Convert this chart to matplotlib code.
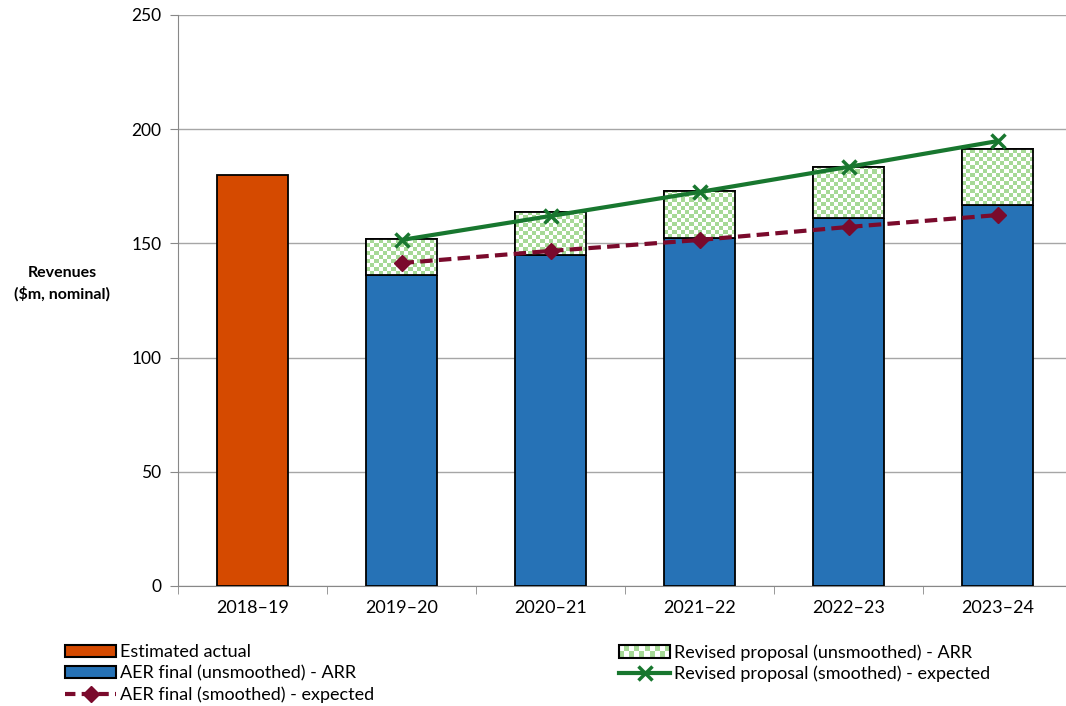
import numpy as np
import matplotlib.pyplot as plt
from matplotlib.patches import Rectangle, Patch
from matplotlib.lines import Line2D
from matplotlib.legend_handler import HandlerBase

plt.rcParams['font.family'] = ['Lato', 'DejaVu Sans']

# Data
years = ["2018–19", "2019–20", "2020–21", "2021–22", "2022–23", "2023–24"]
estimated_actual = [180.0]
aer_final_arr = [136, 145, 152.5, 161, 167]
revised_arr = [152, 163.7, 172.8, 183.5, 191.3]
revised_expected = [151.5, 162, 172.5, 183.5, 194.8]
aer_expected = [141.4, 146.7, 151.5, 157.2, 162.4]

orange = '#d54a00'
blue = '#2672b6'
light_green = '#a6d996'
dark_green = '#18772f'
maroon = '#7a0a2c'

fig = plt.figure(figsize=(10.66, 7.06), dpi=100)
ax = fig.add_axes([178 / 1066, 1 - 586 / 706, 894 / 1066, 571 / 706])

x = np.arange(len(years))
w = 0.48
xf = x[1:]

ax.bar(x[:1], estimated_actual, width=w, color=orange, edgecolor='black', linewidth=1.3, zorder=3)
ax.bar(xf, aer_final_arr, width=w, color=blue, edgecolor='black', linewidth=1.3, zorder=3)
tops = np.array(revised_arr) - np.array(aer_final_arr)
green_bars = ax.bar(xf, tops, bottom=aer_final_arr, width=w, color='white',
                    edgecolor='black', linewidth=1.3, zorder=3)

ax.set_xlim(-0.5, len(years) - 0.5)
ax.set_ylim(0, 250)

# checkerboard fill for the revised proposal bars
sq_x = w / 17
sq_y = 1.75
for b in green_bars:
    x0, y0 = b.get_x(), b.get_y()
    nx = int(np.ceil(b.get_width() / sq_x)) + 1
    ny = int(np.ceil(b.get_height() / sq_y)) + 1
    checker = (np.add.outer(np.arange(ny), np.arange(nx)) % 2).astype(float)
    img = ax.imshow(checker, cmap=plt.matplotlib.colors.ListedColormap(['white', light_green]),
                    extent=(x0, x0 + nx * sq_x, y0, y0 + ny * sq_y), origin='lower',
                    interpolation='nearest', aspect='auto', zorder=3.5)
    img.set_clip_path(b)
    edge = Rectangle((x0, y0), b.get_width(), b.get_height(), facecolor='none',
                     edgecolor='black', linewidth=1.3, zorder=3.6)
    ax.add_patch(edge)

ax.set_xlim(-0.5, len(years) - 0.5)
ax.set_ylim(0, 250)

ax.plot(xf, revised_expected, color=dark_green, linewidth=3, marker='x', markersize=10,
        markeredgewidth=2.5, zorder=5)
ax.plot(xf, aer_expected, color=maroon, linewidth=3, linestyle=(0, (3, 1.5)), marker='D',
        markersize=8, zorder=5)

ax.set_yticks(np.arange(0, 251, 50))
ax.yaxis.grid(True, color='#a6a6a6', linewidth=1, zorder=0)
ax.set_axisbelow(True)
ax.set_xticks(x)
ax.set_xticklabels(years)
ax.set_xticks(np.arange(-0.5, len(years)), minor=True)
ax.tick_params(axis='x', which='major', length=0, pad=10, labelsize=13)
ax.tick_params(axis='x', which='minor', length=6, color='#888888', direction='out')
ax.tick_params(axis='y', length=6, color='#888888', labelsize=12.5, pad=6)
for s in ['top', 'right']:
    ax.spines[s].set_visible(False)
ax.spines['left'].set_color('#888888')
ax.spines['bottom'].set_color('#888888')

fig.text(62 / 1066, 1 - 284 / 706, "Revenues\n($m, nominal)", ha='center', va='center',
         fontsize=11.5, fontweight='bold', linespacing=1.5)


class CheckerHandler(HandlerBase):
    def create_artists(self, legend, orig_handle, xdescent, ydescent, width, height, fontsize, trans):
        arts = []
        n, rows = 10, 2
        sw, sh = width / n, height / rows
        bg = Rectangle((-xdescent, -ydescent), width, height, facecolor='white',
                       edgecolor='none', transform=trans)
        arts.append(bg)
        for i in range(n):
            for j in range(rows):
                if (i + j) % 2 == 0:
                    arts.append(Rectangle((-xdescent + i * sw, -ydescent + j * sh), sw, sh,
                                          facecolor=light_green, edgecolor='none', transform=trans))
        arts.append(Rectangle((-xdescent, -ydescent), width, height, facecolor='none',
                              edgecolor='black', linewidth=1.5, transform=trans))
        return arts


leg_kw = dict(loc='upper left', frameon=False, fontsize=13, handlelength=2.8,
              handleheight=0.7, handletextpad=0.25, labelspacing=0.28, borderaxespad=0)

h1 = [Patch(facecolor=orange, edgecolor='black', linewidth=1.5),
      Patch(facecolor=blue, edgecolor='black', linewidth=1.5),
      Line2D([], [], color=maroon, linewidth=3, linestyle=(0, (2.5, 1.5)), marker='D', markersize=8)]
l1 = ["Estimated actual", "AER final (unsmoothed) - ARR", "AER final (smoothed) - expected"]
leg1 = fig.legend(h1, l1, bbox_to_anchor=(58 / 1066, 1 - 637 / 706), **leg_kw)

checker_proxy = Patch()
h2 = [checker_proxy,
      Line2D([], [], color=dark_green, linewidth=3, marker='x', markersize=10, markeredgewidth=2.5)]
l2 = ["Revised proposal (unsmoothed) - ARR", "Revised proposal (smoothed) - expected"]
leg2 = fig.legend(h2, l2, bbox_to_anchor=(612 / 1066, 1 - 637 / 706),
                  handler_map={checker_proxy: CheckerHandler()}, **leg_kw)

fig.savefig("out.png", dpi=100)
